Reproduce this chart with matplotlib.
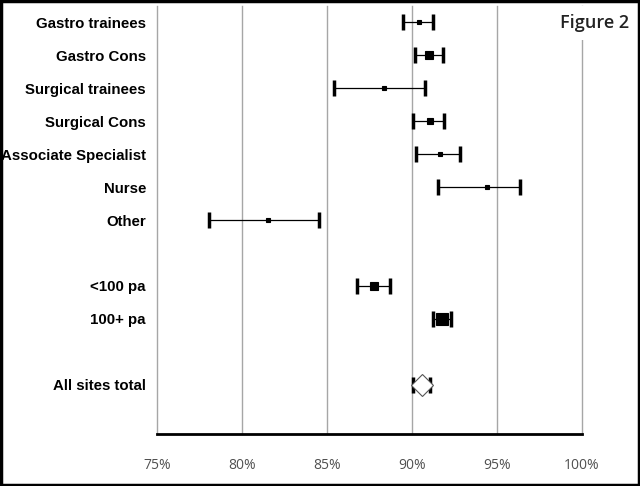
import numpy as np
from matplotlib import pyplot as plt
from matplotlib.ticker import MultipleLocator, FuncFormatter


#  -------------------------------------------  data  ------------------------------------------  #

labels = ["Gastro trainees", "Gastro Cons", "Surgical trainees", "Surgical Cons",
          "Associate Specialist", "Nurse", "Other", "", "<100 pa", "100+ pa", "", "All sites total"]

mean = [90.39, 91.02, 88.37, 91.06, 91.65, 94.41, 81.51, np.nan, 87.78, 91.75, np.nan, 90.59]
low = [89.49, 90.18, 85.43, 90.08, 90.22, 91.51, 78.08, np.nan, 86.78, 91.22, np.nan, 90.08]
high = [91.22, 91.80, 90.78, 91.88, 92.84, 96.35, 84.53, np.nan, 88.71, 92.29, np.nan, 91.06]

# marker styles per row: (marker, size, face)
marks = [('s', 3.5, 'k'), ('s', 6, 'k'), ('s', 3.5, 'k'), ('s', 4.5, 'k'),
         ('s', 3.5, 'k'), ('s', 3.5, 'k'), ('s', 3.5, 'k'), None,
         ('s', 6, 'k'), ('s', 9, 'k'), None, ('D', 11, 'white')]

#  -------------------------------------------  plot  ------------------------------------------  #

fig = plt.figure(figsize=(6.4, 4.86), dpi=100)
ax = fig.add_axes([157/640, 1 - 434/486, 425/640, 428/486])

for i, m in enumerate(marks):
    if m is None:
        continue
    ax.errorbar(mean[i], i, xerr=[[mean[i] - low[i]], [high[i] - mean[i]]], fmt='none',
                ecolor='k', elinewidth=0.9, capsize=6, capthick=2.5, zorder=3)
    ax.plot(mean[i], i, m[0], ms=m[1], mfc=m[2], mec='k' if m[2] == 'k' else '#555555',
            mew=0.8, zorder=4)

ax.set_xlim(75, 100)
ax.set_ylim(12.5, -0.5)
ax.xaxis.set_major_locator(MultipleLocator(5))
ax.xaxis.set_major_formatter(FuncFormatter(lambda v, p: f"{v:.0f}%"))
ax.grid(axis='x', color='#a6a6a6', lw=1)
for gl in ax.get_xgridlines():
    gl.set_clip_on(False)
ax.set_axisbelow(True)

ax.set_yticks(range(len(labels)))
ax.set_yticklabels(labels, fontsize=10.8, fontweight='bold', family='Liberation Sans')
ax.tick_params(axis='y', length=0, pad=8)
ax.tick_params(axis='x', length=0, pad=17, labelsize=10, labelcolor='#505050')
for lab in ax.get_xticklabels():
    lab.set_family('Open Sans')

for s in ['top', 'right', 'left']:
    ax.spines[s].set_visible(False)
ax.spines['bottom'].set_linewidth(2)

fig.text(629/640, 1 - 14/486, "Figure 2", ha='right', va='top',
         fontsize=13, family='Open Sans', fontweight='semibold', color='#222222',
         bbox=dict(fc='white', ec='none', pad=6), zorder=10)

fig.patches.append(plt.Rectangle((0.002, 0.002), 0.996, 0.996, transform=fig.transFigure,
                                 fill=False, ec='k', lw=2.5))

plt.savefig("out.png", dpi=100)
